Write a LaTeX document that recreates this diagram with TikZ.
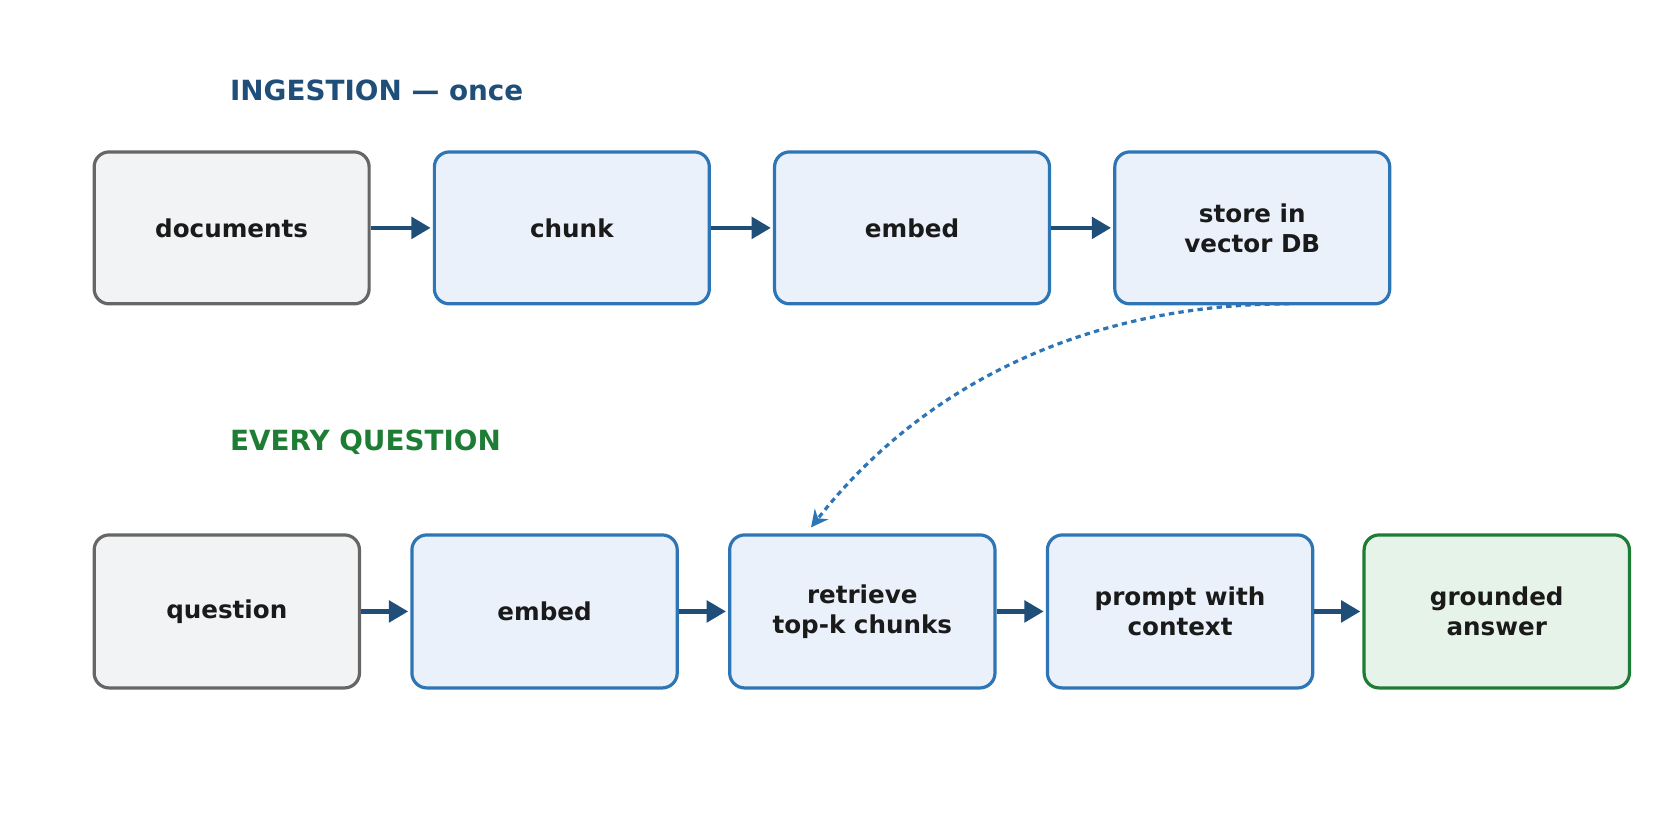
\documentclass[tikz,border=0pt]{standalone}
\usepackage{fontspec}
\setmainfont{DejaVu Sans}
\usetikzlibrary{arrows.meta}
\definecolor{bb}{HTML}{2E75B6}\definecolor{bf}{HTML}{EAF1FA}
\definecolor{gb}{HTML}{666666}\definecolor{gf}{HTML}{F2F3F5}
\definecolor{nb}{HTML}{1E7D34}\definecolor{nf}{HTML}{E6F3E8}
\definecolor{ar}{HTML}{1F4E79}\definecolor{tx}{HTML}{1A1A1A}
\begin{document}
\begin{tikzpicture}[x=0.5pt,y=-0.5pt,
 box/.style={rounded corners=7pt,line width=1.5pt,font=\bfseries\fontsize{11.5}{14}\selectfont,text=tx,align=center,inner sep=0pt},
 blue/.style={box,draw=bb,fill=bf},grey/.style={box,draw=gb,fill=gf},green/.style={box,draw=nb,fill=nf},
 flow/.style={-{Triangle[length=9pt,width=10pt]},line width=2pt,draw=ar,shorten >=1pt}]
\useasboundingbox (0,0) rectangle (1560,767);
\node[anchor=west,text=ar,font=\bfseries\fontsize{13}{15}\selectfont] (t1) at (208,84) {INGESTION — once};
\node[anchor=west,text=nb,font=\bfseries\fontsize{13}{15}\selectfont] (t2) at (208,413) {EVERY QUESTION};
\newcommand\bx[6]{\node[#1,minimum width={(#4-#3)*0.5pt},minimum height={(#6-#5)*0.5pt}] (#2) at ({(#3+#4)/2},{(#5+#6)/2})}
\bx{grey}{a1}{88}{345}{142}{284}{documents};
\bx{blue}{a2}{406}{663}{142}{284}{chunk};
\bx{blue}{a3}{724}{981}{142}{284}{embed};
\bx{blue}{a4}{1042}{1299}{142}{284}{store in\\vector DB};
\bx{grey}{b1}{88}{336}{500}{643}{question};
\bx{blue}{b2}{385}{633}{500}{643}{embed};
\bx{blue}{b3}{682}{930}{500}{643}{retrieve\\top-k chunks};
\bx{blue}{b4}{979}{1227}{500}{643}{prompt with\\context};
\bx{green}{b5}{1275}{1523}{500}{643}{grounded\\answer};
\foreach \p/\q in {a1/a2,a2/a3,a3/a4,b1/b2,b2/b3,b3/b4,b4/b5} \draw[flow] (\p) -- (\q);
\coordinate (cs) at (1205,284);
\coordinate (ce) at (758,493);
\draw[bb,line width=1.5pt,dash pattern=on 2.5pt off 2pt,-{Stealth[length=8pt,width=8pt]}] (cs) .. controls (1030,284) and (870,350) .. (ce);
\end{tikzpicture}
\end{document}
